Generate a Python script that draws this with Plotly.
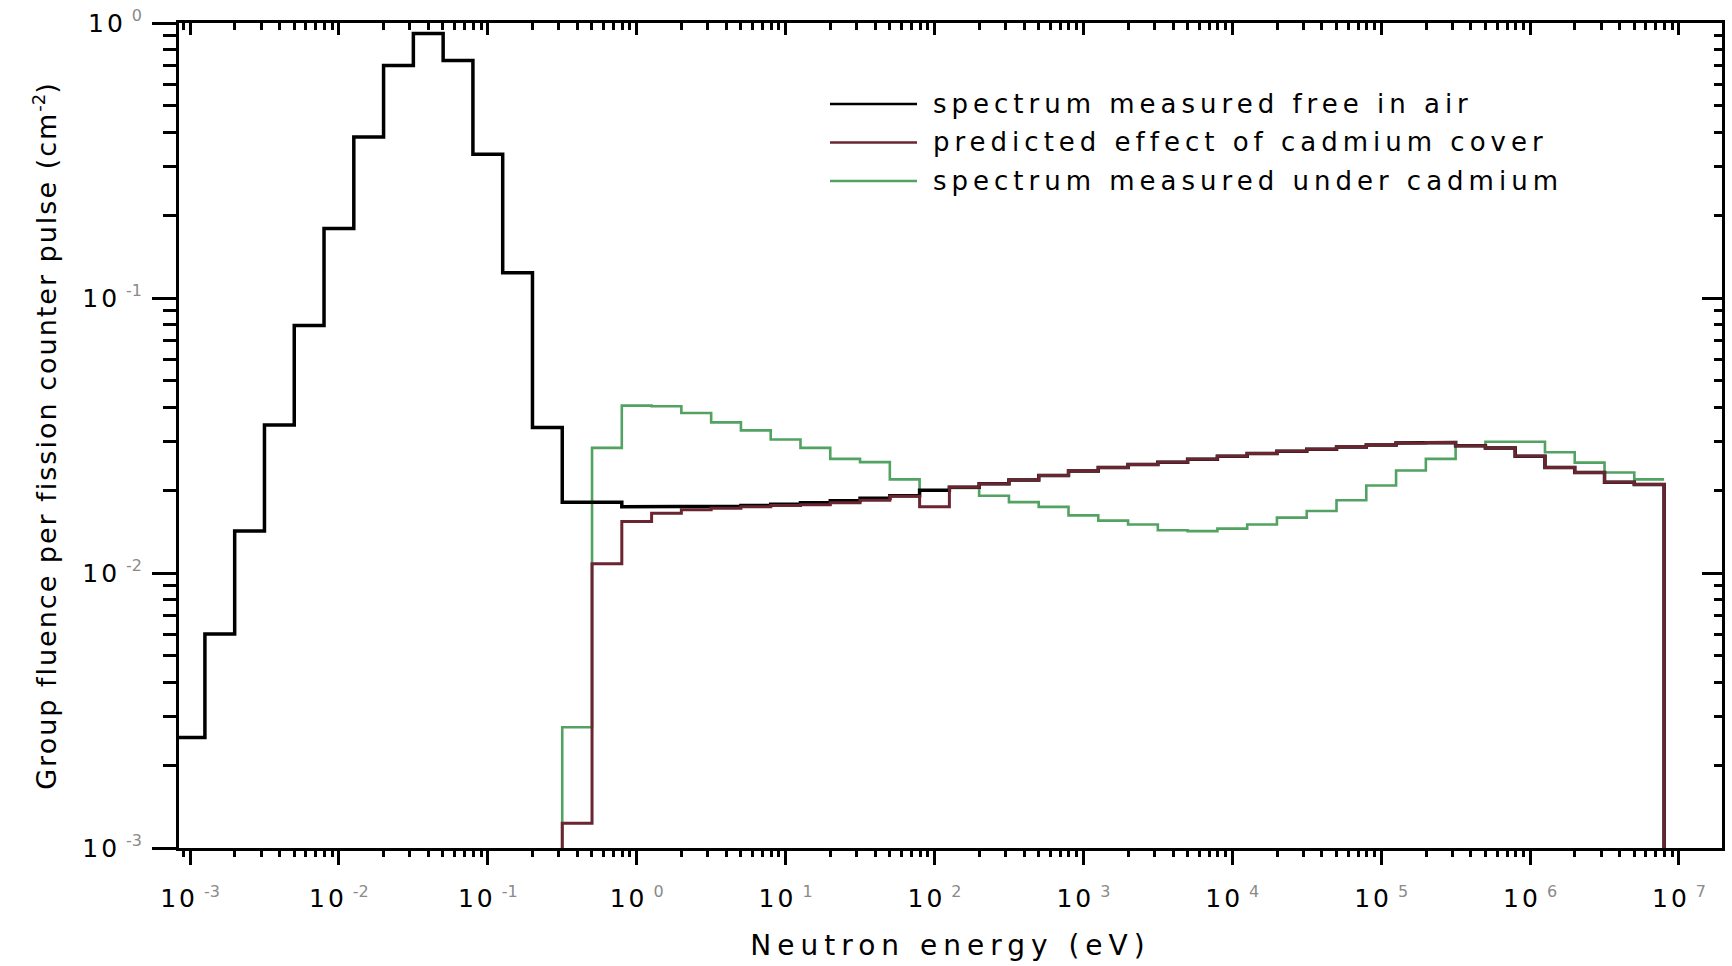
import plotly.graph_objects as go

# ---------------- data ----------------
# Energy group boundaries (eV), five groups per decade
group_edges_eV = [
    7.943e-4, 1.259e-3, 1.995e-3, 3.162e-3, 5.012e-3, 7.943e-3,
    1.259e-2, 1.995e-2, 3.162e-2, 5.012e-2, 7.943e-2,
    0.1259, 0.1995, 0.3162, 0.5012, 0.7943,
    1.259, 1.995, 3.162, 5.012, 7.943,
    12.59, 19.95, 31.62, 50.12, 79.43,
    125.9, 199.5, 316.2, 501.2, 794.3,
    1259.0, 1995.0, 3162.0, 5012.0, 7943.0,
    1.259e4, 1.995e4, 3.162e4, 5.012e4, 7.943e4,
    1.259e5, 1.995e5, 3.162e5, 5.012e5, 7.943e5,
    1.259e6, 1.995e6, 3.162e6, 5.012e6, 7.943e6,
]

# Group fluence per fission counter pulse (cm^-2), one value per group
free_in_air = [
    2.52e-3, 6.0e-3, 1.42e-2, 3.45e-2, 7.95e-2,
    0.179, 0.385, 0.70, 0.915, 0.73,
    0.333, 0.1235, 0.0338, 0.0181, 0.0181,
    0.0174, 0.0174, 0.0174, 0.0175, 0.0176,
    0.0178, 0.0180, 0.0183, 0.0187, 0.0191,
    0.0200, 0.0205, 0.0211, 0.0218, 0.0226,
    0.0235, 0.0242, 0.0248, 0.0253, 0.0259,
    0.0266, 0.0272, 0.0277, 0.0282, 0.0287,
    0.0292, 0.0297, 0.0298, 0.0290, 0.0285,
    0.0266, 0.0242, 0.0232, 0.0214, 0.0210,
]

predicted_cd_cover = [None] * 13 + [
    1.23e-3, 0.0108,
    0.0154, 0.0165, 0.0170, 0.0172, 0.0174,
    0.0176, 0.0177, 0.0180, 0.0184, 0.0190,
    0.0174, 0.0205, 0.0211, 0.0218, 0.0226,
    0.0235, 0.0242, 0.0248, 0.0253, 0.0259,
    0.0266, 0.0272, 0.0277, 0.0282, 0.0287,
    0.0292, 0.0297, 0.0298, 0.0290, 0.0285,
    0.0266, 0.0242, 0.0232, 0.0214, 0.0210,
]

measured_under_cd = [None] * 13 + [
    2.75e-3, 0.0285,
    0.0406, 0.0404, 0.0382, 0.0353, 0.0330,
    0.0306, 0.0285, 0.0260, 0.0253, 0.0219,
    0.0200, 0.0204, 0.0191, 0.0181, 0.0174,
    0.0162, 0.0155, 0.0150, 0.0143, 0.0142,
    0.0145, 0.0150, 0.0159, 0.0168, 0.0184,
    0.0208, 0.0236, 0.0260, 0.0291, 0.0300,
    0.0300, 0.0275, 0.0252, 0.0232, 0.0219,
]

legend_names = [
    "spectrum measured free in air",
    "predicted effect of cadmium cover",
    "spectrum measured under cadmium",
]
series_colors = ["#000000", "#6a2530", "#52a262"]

x_tick_exponents = [-3, -2, -1, 0, 1, 2, 3, 4, 5, 6, 7]
y_tick_exponents = [-3, -2, -1, 0]

x_title = "Neutron energy (eV)"
y_title_main = "Group fluence per fission counter pulse (cm"
y_title_exp = "-2"
y_title_end = ")"

# ---------------- helpers ----------------
FONT = "DejaVu Sans"


def step_path(edges, values, rise_from_floor, drop_to_floor, floor=1e-5):
    idx = [i for i, v in enumerate(values) if v is not None]
    xs, ys = [], []
    if rise_from_floor:
        xs.append(edges[idx[0]])
        ys.append(floor)
    for i in idx:
        xs += [edges[i], edges[i + 1]]
        ys += [values[i], values[i]]
    if drop_to_floor:
        xs.append(edges[idx[-1] + 1])
        ys.append(floor)
    return xs, ys


def tick_text(exps):
    return [
        f'<span style="letter-spacing:3px;font-size:25px">1</span>'
        f'<span style="letter-spacing:9px;font-size:25px">0</span>'
        f'<sup><span style="font-size:16px;color:#8a8a8a">{e}</span></sup>'
        for e in exps
    ]


x_major = [10.0 ** e for e in x_tick_exponents]
y_major = [10.0 ** e for e in y_tick_exponents]
x_minor = [m * 10.0 ** e for e in range(-4, 8) for m in range(2, 10)]
y_minor = [m * 10.0 ** e for e in range(-4, 1) for m in range(2, 10)]

X_RANGE = [-3.074, 7.289]
Y_RANGE = [-3, 0]

fig = go.Figure()

gx, gy = step_path(group_edges_eV, measured_under_cd, True, False)
fig.add_trace(go.Scatter(x=gx, y=gy, mode="lines", name=legend_names[2],
                         line=dict(color=series_colors[2], width=2.6),
                         showlegend=False, xaxis="x", yaxis="y"))

bx, by = step_path(group_edges_eV, free_in_air, False, True)
fig.add_trace(go.Scatter(x=bx, y=by, mode="lines", name=legend_names[0],
                         line=dict(color=series_colors[0], width=3.5),
                         showlegend=False, xaxis="x", yaxis="y"))

rx, ry = step_path(group_edges_eV, predicted_cd_cover, True, True)
fig.add_trace(go.Scatter(x=rx, y=ry, mode="lines", name=legend_names[1],
                         line=dict(color=series_colors[1], width=3),
                         showlegend=False, xaxis="x2", yaxis="y2"))

# ---------------- manual legend ----------------
legend_rows_y = [0.9018, 0.8552, 0.8085]
legend_order = [0, 1, 2]
for row, k in zip(legend_rows_y, legend_order):
    fig.add_shape(type="line", xref="paper", yref="paper",
                  x0=0.4219, x1=0.4783, y0=row, y1=row,
                  line=dict(color=series_colors[k], width=2.5))
    fig.add_annotation(xref="paper", yref="paper", x=0.4874, y=row,
                       xanchor="left", yanchor="middle", showarrow=False,
                       text=f'<span style="letter-spacing:5px;font-size:26px">{legend_names[k]}</span>',
                       font=dict(family=FONT, size=26, color="#000000"))

axis_common = dict(type="log", showgrid=False, zeroline=False, showline=True,
                   linecolor="#000000", linewidth=3, tickcolor="#000000",
                   tickwidth=3, automargin=False)

x_title_html = f'<span style="letter-spacing:6px;font-size:28px">{x_title}</span>'
y_title_html = (f'<span style="letter-spacing:2px;font-size:27px">{y_title_main}</span>'
                f'<sup><span style="font-size:18px">{y_title_exp}</span></sup>'
                f'<span style="letter-spacing:2px;font-size:27px">{y_title_end}</span>')

fig.update_layout(
    width=1732, height=966, autosize=False,
    margin=dict(l=179, r=10, t=23, b=118),
    paper_bgcolor="#ffffff", plot_bgcolor="#ffffff",
    showlegend=False,
    font=dict(family=FONT, color="#000000"),
    xaxis=dict(**axis_common, range=X_RANGE, side="bottom",
               tickmode="array", tickvals=x_major, ticktext=tick_text(x_tick_exponents),
               ticks="outside", ticklen=14,
               tickfont=dict(family=FONT, size=25, color="#000000"),
               ticklabelstandoff=12,
               minor=dict(tickmode="array", tickvals=x_minor, ticks="outside",
                          ticklen=6, tickwidth=2.5, tickcolor="#000000", showgrid=False),
               title=dict(text=x_title_html,
                          font=dict(family=FONT, size=28, color="#000000"), standoff=24)),
    yaxis=dict(**axis_common, range=Y_RANGE, side="left",
               tickmode="array", tickvals=y_major, ticktext=tick_text(y_tick_exponents),
               ticks="outside", ticklen=24,
               tickfont=dict(family=FONT, size=25, color="#000000"),
               ticklabelstandoff=5,
               minor=dict(tickmode="array", tickvals=y_minor, ticks="outside",
                          ticklen=13, tickwidth=2.5, tickcolor="#000000", showgrid=False),
               title=dict(text=y_title_html,
                          font=dict(family=FONT, size=27, color="#000000"), standoff=18)),
    xaxis2=dict(**axis_common, range=X_RANGE, overlaying="x", side="top", anchor="y2",
                tickmode="array", tickvals=x_major, showticklabels=False,
                ticks="inside", ticklen=12,
                minor=dict(tickmode="array", tickvals=x_minor, ticks="inside",
                           ticklen=7, tickwidth=2.5, tickcolor="#000000", showgrid=False)),
    yaxis2=dict(**axis_common, range=Y_RANGE, overlaying="y", side="right", anchor="x2",
                tickmode="array", tickvals=y_major, showticklabels=False,
                ticks="inside", ticklen=20,
                minor=dict(tickmode="array", tickvals=y_minor, ticks="inside",
                           ticklen=8, tickwidth=2.5, tickcolor="#000000", showgrid=False)),
)

fig.write_html("out.html")
